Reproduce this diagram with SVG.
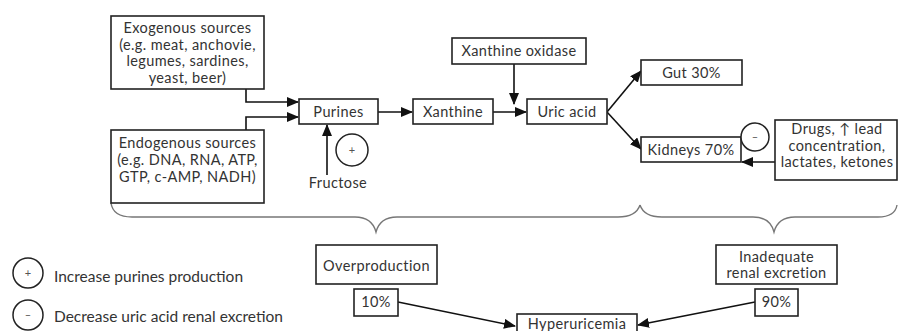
<svg xmlns="http://www.w3.org/2000/svg" width="898" height="331" viewBox="0 0 898 331">
<defs>
<marker id="ah" markerWidth="12" markerHeight="10" refX="11" refY="5" orient="auto" markerUnits="userSpaceOnUse">
<path d="M0,0 L12,5 L0,10 Z" fill="#111"/>
</marker>
<style>
.b{fill:#fff;stroke:#222;stroke-width:1.6}
.t{font-family:Lato,"Open Sans",sans-serif;font-size:14.5px;letter-spacing:0.4px;fill:#333;text-anchor:middle}
.l{font-family:Lato,"Open Sans",sans-serif;font-size:15.5px;fill:#333}
.c{fill:none;stroke:#111;stroke-width:1.6}
.br{fill:none;stroke:#777;stroke-width:1.4}
.cir{fill:#fff;stroke:#222;stroke-width:1.5}
.sg{font-family:Lato,"Open Sans",sans-serif;font-size:11px;fill:#555;text-anchor:middle}
</style>
</defs>
<rect width="898" height="331" fill="#fff"/>

<g id="connectors">
<path class="c" d="M246,89 V102 H298" marker-end="url(#ah)"/>
<path class="c" d="M246,130 V117 H298" marker-end="url(#ah)"/>
<path class="c" d="M378,112 H412" marker-end="url(#ah)"/>
<path class="c" d="M493,112 H526" marker-end="url(#ah)"/>
<path class="c" d="M514,64 V104" marker-end="url(#ah)"/>
<path class="c" d="M327,175 V125" marker-end="url(#ah)"/>
<path class="c" d="M607,112 L641,71" marker-end="url(#ah)"/>
<path class="c" d="M607,112 L641,149" marker-end="url(#ah)"/>
<path class="c" d="M775,162 H742" marker-end="url(#ah)"/>
<path class="c" d="M398,302 L515,326" marker-end="url(#ah)"/>
<path class="c" d="M755,302 L638,325" marker-end="url(#ah)"/>
<path class="br" d="M111,203 Q113,217 132,217 H355 Q372,217 376,232 Q380,217 397,217 H618 Q636,217 640,205"/>
<path class="br" d="M640,205 Q644,217 662,217 H753 Q770,217 774,232 Q778,217 795,217 H878 Q895,217 897,205"/>
</g>

<g id="exogenous">
<rect class="b" x="111" y="16" width="153" height="73"/>
<text class="t" x="187.5" y="33">Exogenous sources</text>
<text class="t" x="187.5" y="49.5">(e.g. meat, anchovie,</text>
<text class="t" x="187.5" y="66">legumes, sardines,</text>
<text class="t" x="187.5" y="82.5">yeast, beer)</text>
</g>

<g id="endogenous">
<rect class="b" x="111" y="130" width="153" height="73"/>
<text class="t" x="187.5" y="148">Endogenous sources</text>
<text class="t" x="187.5" y="165">(e.g. DNA, RNA, ATP,</text>
<text class="t" x="187.5" y="182">GTP, c-AMP, NADH)</text>
</g>

<g id="purines">
<rect class="b" x="299" y="99" width="79" height="25"/>
<text class="t" x="338.5" y="116.5">Purines</text>
</g>

<g id="fructose">
<text class="t" x="338" y="188">Fructose</text>
<circle class="cir" cx="352" cy="150" r="16"/>
<text class="sg" x="352" y="154">+</text>
</g>

<g id="xanthine">
<rect class="b" x="413" y="99" width="80" height="25"/>
<text class="t" x="453" y="116.5">Xanthine</text>
</g>

<g id="xanthine-oxidase">
<rect class="b" x="452" y="38" width="134" height="26"/>
<text class="t" x="519" y="55.5">Xanthine oxidase</text>
</g>

<g id="uric-acid">
<rect class="b" x="527" y="99" width="80" height="25"/>
<text class="t" x="567" y="116.5">Uric acid</text>
</g>

<g id="gut">
<rect class="b" x="641" y="60" width="101" height="25"/>
<text class="t" x="691.5" y="77.5">Gut 30%</text>
</g>

<g id="kidneys">
<rect class="b" x="641" y="137" width="100" height="25"/>
<text class="t" x="691" y="154.5">Kidneys 70%</text>
</g>

<g id="inhibitor">
<circle class="cir" cx="755" cy="137" r="14"/>
<text class="sg" x="755" y="141">–</text>
</g>

<g id="drugs">
<rect class="b" x="775" y="120" width="122" height="60"/>
<text class="t" x="837" y="134">Drugs, ↑ lead</text>
<text class="t" x="837" y="150.5">concentration,</text>
<text class="t" x="837" y="167">lactates, ketones</text>
</g>

<g id="overproduction">
<rect class="b" x="316" y="245" width="121" height="39"/>
<text class="t" x="376.5" y="271">Overproduction</text>
</g>

<g id="pct10">
<rect class="b" x="354" y="289" width="44" height="27"/>
<text class="t" x="376" y="307">10%</text>
</g>

<g id="inadequate">
<rect class="b" x="716" y="245" width="121" height="39"/>
<text class="t" x="776.5" y="261.5">Inadequate</text>
<text class="t" x="776.5" y="278">renal excretion</text>
</g>

<g id="pct90">
<rect class="b" x="755" y="289" width="43" height="27"/>
<text class="t" x="776.5" y="307">90%</text>
</g>

<g id="hyperuricemia">
<rect class="b" x="517" y="314" width="120" height="30"/>
<text class="t" x="577" y="329">Hyperuricemia</text>
</g>

<g id="legend">
<circle class="cir" cx="28" cy="273" r="15"/>
<text class="sg" x="28" y="277">+</text>
<text class="l" x="54" y="282">Increase purines production</text>
<circle class="cir" cx="28" cy="315" r="15"/>
<text class="sg" x="28" y="319">–</text>
<text class="l" x="54" y="322">Decrease uric acid renal excretion</text>
</g>
</svg>
